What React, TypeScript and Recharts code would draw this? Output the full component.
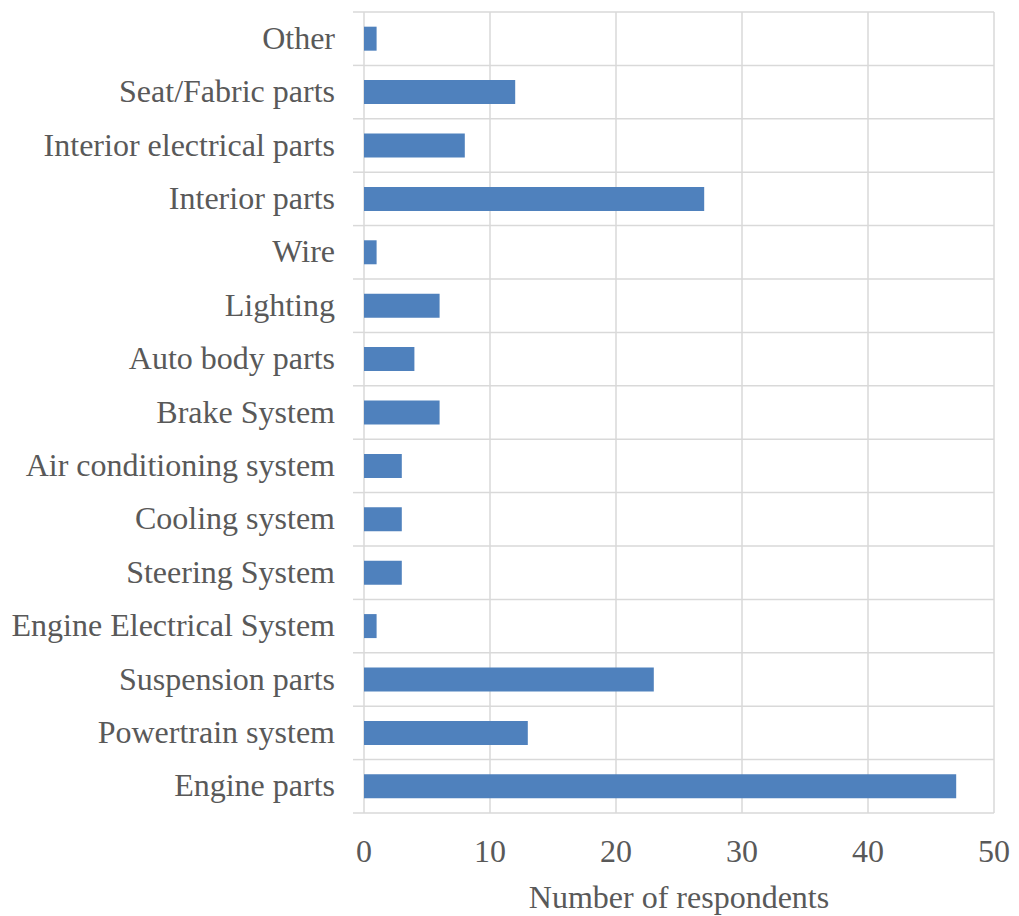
import { BarChart, Bar, XAxis, YAxis, CartesianGrid } from "recharts";

const categories = [
  "Other",
  "Seat/Fabric parts",
  "Interior electrical parts",
  "Interior parts",
  "Wire",
  "Lighting",
  "Auto body parts",
  "Brake System",
  "Air conditioning system",
  "Cooling system",
  "Steering System",
  "Engine Electrical System",
  "Suspension parts",
  "Powertrain system",
  "Engine parts",
];
const respondents = [1, 12, 8, 27, 1, 6, 4, 6, 3, 3, 3, 1, 23, 13, 47];
const xTicks = [0, 10, 20, 30, 40, 50];

const data = categories.map((name, i) => ({ name, value: respondents[i] }));

const W = 1011;
const H = 908;
const MARGIN = { top: 4, right: 25, bottom: 0, left: 0 };
const Y_AXIS_W = 356;
const X_AXIS_H = 103;
const PLOT_LEFT = MARGIN.left + Y_AXIS_W;
const PLOT_BOTTOM = H - MARGIN.bottom - X_AXIS_H;
const BAND = (PLOT_BOTTOM - MARGIN.top) / categories.length;

const FONT = '"Liberation Serif", "Times New Roman", serif';
const TEXT = "#595959";
const GRID = "#d9d9d9";

const CategoryTick = (props: any) => {
  const { y, payload, index } = props;
  return (
    <g>
      <line x1={PLOT_LEFT - 11} x2={PLOT_LEFT} y1={y - BAND / 2} y2={y - BAND / 2} stroke={GRID} strokeWidth={1.5} />
      {index === categories.length - 1 && (
        <line x1={PLOT_LEFT - 11} x2={PLOT_LEFT} y1={y + BAND / 2} y2={y + BAND / 2} stroke={GRID} strokeWidth={1.5} />
      )}
      <text x={PLOT_LEFT - 29} y={y + 10} textAnchor="end" fill={TEXT} fontSize={32} fontFamily={FONT}>
        {payload.value}
      </text>
    </g>
  );
};

const ValueTick = (props: any) => {
  const { x, payload } = props;
  return (
    <text x={x} y={PLOT_BOTTOM + 49} textAnchor="middle" fill={TEXT} fontSize={32} fontFamily={FONT}>
      {payload.value}
    </text>
  );
};

const AxisTitle = (props: any) => {
  const { viewBox } = props;
  return (
    <text x={viewBox.x + viewBox.width / 2} y={PLOT_BOTTOM + 95} textAnchor="middle" fill={TEXT} fontSize={32} fontFamily={FONT}>
      Number of respondents
    </text>
  );
};

export default function App() {
  return (
    <BarChart width={W} height={H} data={data} layout="vertical" margin={MARGIN} barCategoryGap="27.5%">
      <CartesianGrid
        stroke={GRID}
        strokeWidth={1.5}
        horizontalCoordinatesGenerator={({ offset }: any) =>
          categories.map((_, i) => offset.top + i * (offset.height / categories.length)).concat(offset.top + offset.height)
        }
      />
      <XAxis
        type="number"
        domain={[0, 50]}
        ticks={xTicks}
        axisLine={false}
        tickLine={false}
        height={X_AXIS_H}
        tick={<ValueTick />}
        label={<AxisTitle />}
      />
      <YAxis
        type="category"
        dataKey="name"
        width={Y_AXIS_W}
        axisLine={false}
        tickLine={false}
        interval={0}
        tick={<CategoryTick />}
      />
      <Bar dataKey="value" fill="#4f81bd" isAnimationActive={false} />
    </BarChart>
  );
}
